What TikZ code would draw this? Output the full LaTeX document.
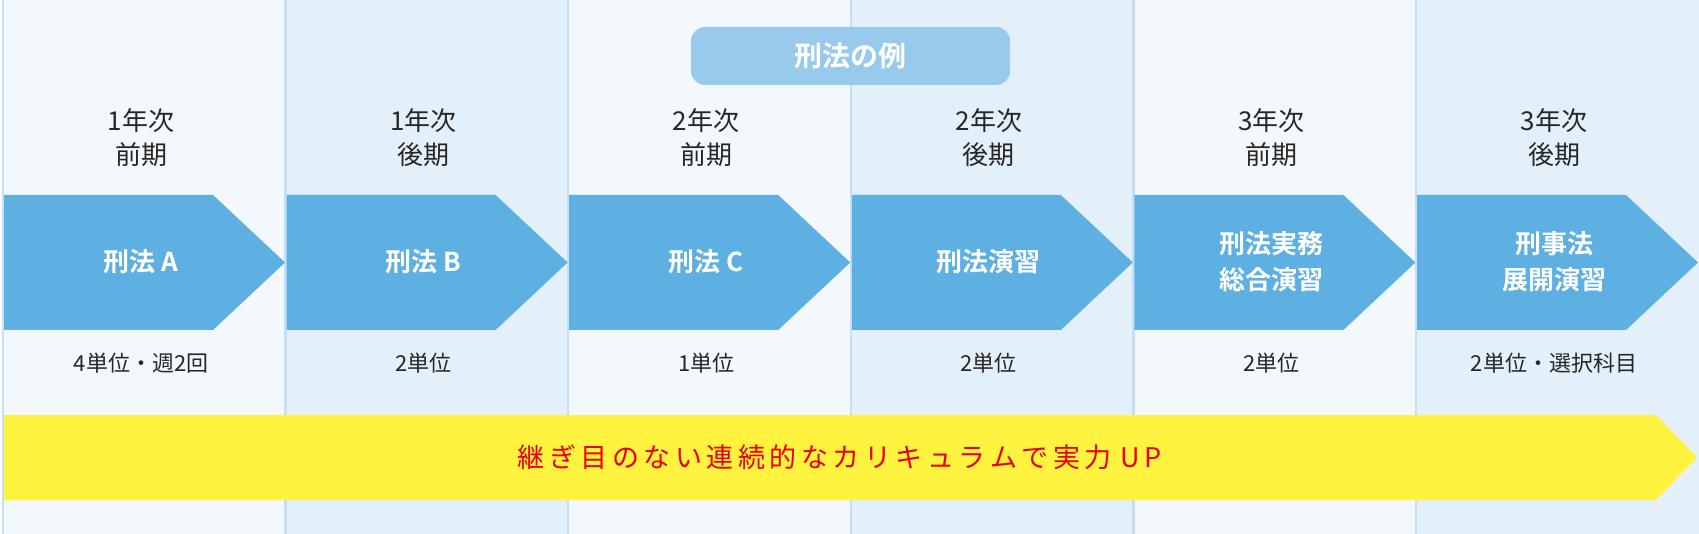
\documentclass[tikz,border=0pt]{standalone}
\usepackage{fontspec}
\setmainfont{Noto Sans CJK JP}
\newfontfamily\jpb{Noto Sans CJK JP Bold}
\definecolor{bgA}{HTML}{F3F8FC}
\definecolor{bgB}{HTML}{E3F0FA}
\definecolor{divc}{HTML}{C5E0F4}
\definecolor{chev}{HTML}{5DB0E1}
\definecolor{pill}{HTML}{98CAEB}
\definecolor{ylw}{HTML}{FFF33F}
\definecolor{rd}{HTML}{E60012}
\tikzset{
 yr/.style={font=\fontsize{26}{34}\selectfont, text=black!85, align=center},
 cr/.style={font=\fontsize{22}{26}\selectfont, text=black!85},
 lab/.style={font=\jpb\fontsize{26}{36}\selectfont, text=white, align=center},
}
\begin{document}
\begin{tikzpicture}[x=1pt,y=-1pt]
\useasboundingbox (0,0) rectangle (1699,534);
\foreach \i in {0,...,5}{
  \pgfmathsetmacro\xa{3+\i*282.6}
  \ifodd\i \fill[bgB] (\xa,0) rectangle ++(282.6,534); \else \fill[bgA] (\xa,0) rectangle ++(282.6,534); \fi
  \draw[divc, line width=2.5pt] (\xa,0) -- (\xa,534);
}
\node[fill=pill, rounded corners=14pt, minimum width=319pt, minimum height=58pt, font=\jpb\fontsize{28}{30}\selectfont, text=white] (title) at (850.5,56) {刑法の例};
\foreach \i/\y/\t/\c/\l in {0/前期/1/4単位・週2回/刑法 A, 1/後期/1/2単位/刑法 B, 2/前期/2/1単位/刑法 C, 3/後期/2/2単位/刑法演習, 4/前期/3/2単位/刑法実務\\総合演習, 5/後期/3/2単位・選択科目/刑事法\\展開演習}{
  \pgfmathsetmacro\xa{4+\i*282.6}
  \fill[chev] (\xa,195) -- ++(209,0) -- ++(72,67.5) -- ++(-72,67.5) -- ++(-209,0) -- cycle;
  \node[lab] (l\i) at (\xa+137,262) {\l};
  \node[yr] (y\i) at (\xa+137,138) {\t 年次\\\y};
  \node[cr] (c\i) at (\xa+137,363) {\c};
}
\fill[ylw] (4,415) -- (1656,415) -- (1697,457.5) -- (1656,500) -- (4,500) -- cycle;
\node[font=\fontsize{27}{30}\selectfont, text=rd] (banner) at (840,457.5) {継\,ぎ\,目\,の\,な\,い\,連\,続\,的\,な\,カ\,リ\,キ\,ュ\,ラ\,ム\,で\,実\,力\,\,U\,P};
\end{tikzpicture}
\end{document}
